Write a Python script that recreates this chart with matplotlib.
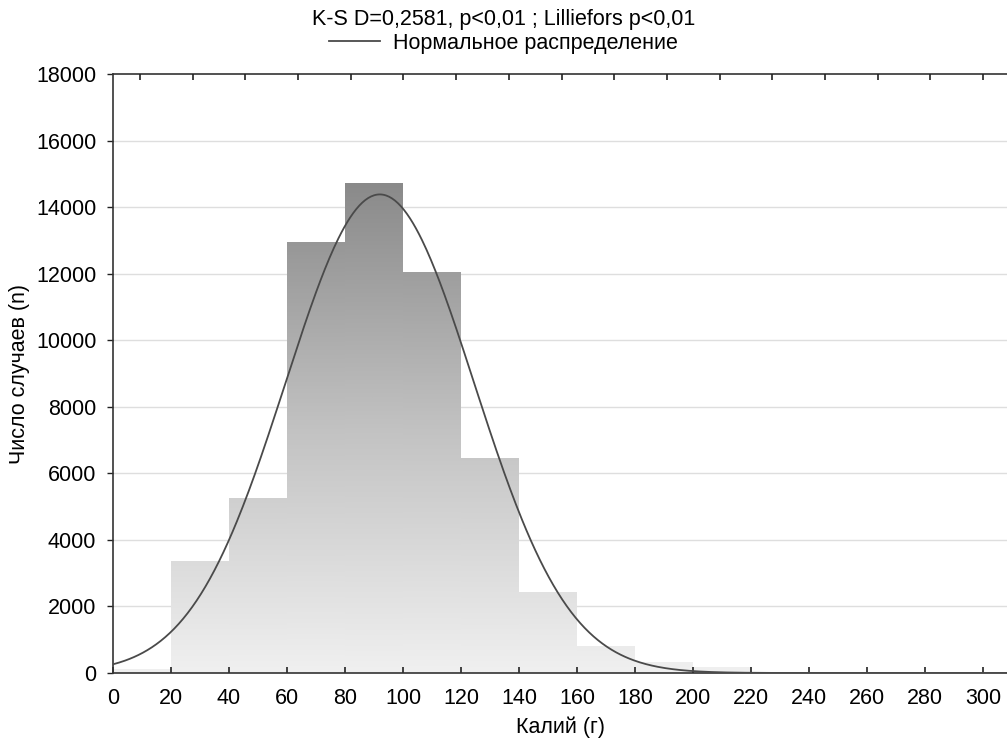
import numpy as np
import matplotlib
matplotlib.use("Agg")
import matplotlib.pyplot as plt
from matplotlib.colors import LinearSegmentedColormap
from matplotlib.lines import Line2D

plt.rcParams['font.family'] = ['Liberation Sans', 'DejaVu Sans']

# ---- data ----
bin_edges = [0, 20, 40, 60, 80, 100, 120, 140, 160, 180, 200, 220]
counts = [120, 3350, 5250, 12950, 14700, 12050, 6450, 2420, 810, 310, 170]
fit_mean = 92.0
fit_sd = 32.5
x_ticks = [0, 20, 40, 60, 80, 100, 120, 140, 160, 180, 200, 220, 240, 260, 280, 300]
y_ticks = [0, 2000, 4000, 6000, 8000, 10000, 12000, 14000, 16000, 18000]
title_text = "K-S D=0,2581, p<0,01 ; Lilliefors p<0,01"
legend_text = "Нормальное распределение"
xlabel = "Калий (г)"
ylabel = "Число случаев (n)"

FS = 15.5

fig = plt.figure(figsize=(10.07, 7.42), dpi=100)
ax = fig.add_axes([113/1007, 1-673/742, 894/1007, (673-74)/742])
xmax = 894/2.9

# grid
for yt in y_ticks[1:-1]:
    ax.axhline(yt, color='#dedede', lw=1.0, zorder=0)

# gradient bars
cmap = LinearSegmentedColormap.from_list('g', ['#f0f0f0', '#c2c2c2', '#8a8a8a'])
vmax = 14700
n_total = sum(counts)
for i, c in enumerate(counts):
    l, r = bin_edges[i], bin_edges[i+1]
    grad = np.linspace(0, c, 256).reshape(-1, 1)
    ax.imshow(grad, extent=(l, r, 0, c), origin='lower', aspect='auto',
              cmap=cmap, vmin=0, vmax=vmax, zorder=1, interpolation='bilinear')
widths = np.diff(bin_edges)
ax.bar(bin_edges[:-1], counts, width=widths, align='edge', fill=False,
       edgecolor='none', linewidth=0, zorder=2)
ax.set_xlim(0, xmax)
ax.set_ylim(0, 18000)

# normal curve
xs = np.linspace(0, xmax, 600)
bw = bin_edges[1] - bin_edges[0]
ys = n_total * bw / (fit_sd*np.sqrt(2*np.pi)) * np.exp(-0.5*((xs-fit_mean)/fit_sd)**2)
ax.plot(xs, ys, color='#4a4a4a', lw=1.3, zorder=3)

# spines and ticks
for s in ['left', 'bottom', 'top']:
    ax.spines[s].set_color('#333333')
    ax.spines[s].set_linewidth(1.2)
ax.spines['right'].set_visible(False)
ax.set_xticks(x_ticks)
ax.set_yticks(y_ticks)
ax.tick_params(axis='x', direction='in', length=4, width=1.2, color='#222222',
               labelsize=FS, pad=11)
ax.tick_params(axis='y', direction='out', length=4, width=1.0, color='#222222',
               labelsize=FS, pad=8)

ax2 = ax.twiny()
ax2.set_xlim(-9.31/18.17, (xmax-9.31)/18.17)
ax2.set_xticks(range(0, 17))
ax2.tick_params(axis='x', direction='in', length=4, width=1.2, color='#222222',
                labeltop=False)
for s in ax2.spines.values():
    s.set_visible(False)

ax.set_xlabel(xlabel, fontsize=FS, labelpad=5)
ax.set_ylabel(ylabel, fontsize=FS, labelpad=4)

fig.text(0.5, 1-20/742, title_text, ha='center', va='center', fontsize=FS)
handle = Line2D([], [], color='#4a4a4a', lw=1.3)
fig.legend([handle], [legend_text], loc='center', bbox_to_anchor=(0.5, 1-43/742),
           frameon=False, fontsize=FS, handlelength=2.4, handletextpad=0.6,
           borderpad=0, borderaxespad=0)

fig.savefig('out.png', dpi=100)
